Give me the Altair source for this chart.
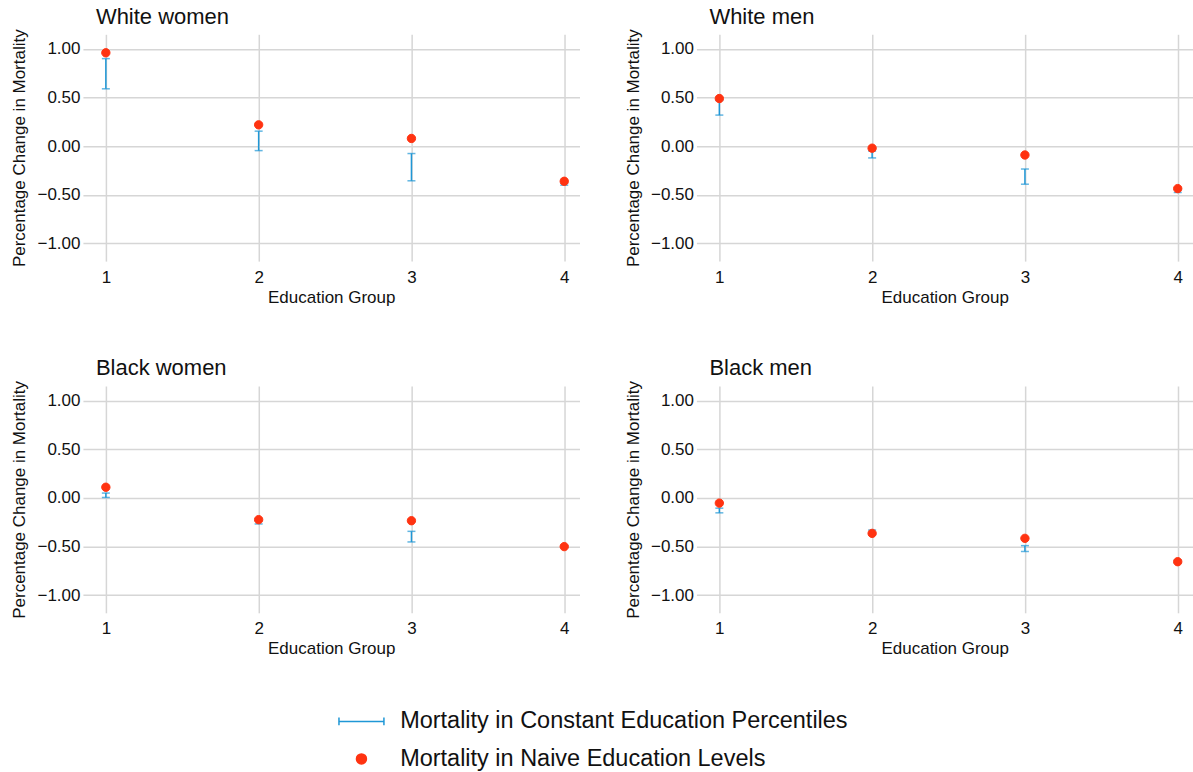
import altair as alt
import pandas as pd

# Panels and education groups
panels = ["White women", "White men", "Black women", "Black men"]
groups = [1, 2, 3, 4]

# Percentage change in mortality, naive education levels (points)
naive_white_women = [0.96, 0.22, 0.08, -0.36]
naive_white_men = [0.49, -0.02, -0.09, -0.435]
naive_black_women = [0.11, -0.223, -0.234, -0.50]
naive_black_men = [-0.053, -0.364, -0.415, -0.655]

# Constant education percentiles: lower / upper bounds (error bars)
low_white_women = [0.59, -0.045, -0.355, -0.40]
high_white_women = [0.90, 0.155, -0.075, -0.38]
low_white_men = [0.32, -0.12, -0.39, -0.475]
high_white_men = [0.47, -0.05, -0.234, -0.445]
low_black_women = [0.005, -0.267, -0.452, -0.51]
high_black_women = [0.05, -0.235, -0.343, -0.49]
low_black_men = [-0.153, -0.37, -0.55, -0.67]
high_black_men = [-0.105, -0.33, -0.49, -0.64]

SER_CONST = "Mortality in Constant Education Percentiles"
SER_NAIVE = "Mortality in Naive Education Levels"
BLUE = "#1f97d6"
RED = "#ff3311"
FONT = "Liberation Sans"
# legend glyph for the error bars: a horizontal bar with end caps
ERR_PATH = "M-4.5,0L4.5,0M-4.5,-0.77L-4.5,0.77M4.5,-0.77L4.5,0.77"

naive = [naive_white_women, naive_white_men, naive_black_women, naive_black_men]
lows = [low_white_women, low_white_men, low_black_women, low_black_men]
highs = [high_white_women, high_white_men, high_black_women, high_black_men]

rows = []
for p, nv, lo, hi in zip(panels, naive, lows, highs):
    for g, n, a, b in zip(groups, nv, lo, hi):
        rows.append({"panel": p, "group": g, "naive": n, "lo": a, "hi": b,
                     "series": SER_NAIVE})
df = pd.DataFrame(rows)

PW, PH = 497, 227
SERIES = [SER_CONST, SER_NAIVE]


def panel_chart(name):
    base = alt.Chart(df).transform_filter(alt.datum.panel == name)
    x = alt.X(
        "group:Q",
        scale=alt.Scale(domain=[0.85, 4.1], nice=False, zero=False),
        axis=alt.Axis(values=groups, format="d", title="Education Group",
                      labelPadding=8, titlePadding=4),
    )
    y_axis = alt.Axis(values=[-1, -0.5, 0, 0.5, 1], format=".2f",
                      title="Percentage Change in Mortality",
                      labelPadding=3, titlePadding=8)
    y_scale = alt.Scale(domain=[-1.18, 1.15], nice=False, zero=False)

    bars = base.mark_rule(color=BLUE, strokeWidth=1.5).encode(
        x=x, y=alt.Y("lo:Q", scale=y_scale, axis=y_axis), y2="hi:Q"
    )
    cap_lo = base.mark_tick(color=BLUE, orient="horizontal", size=8,
                            thickness=1.5).encode(x=x, y=alt.Y("lo:Q", scale=y_scale, axis=y_axis))
    cap_hi = base.mark_tick(color=BLUE, orient="horizontal", size=8,
                            thickness=1.5).encode(x=x, y=alt.Y("hi:Q", scale=y_scale, axis=y_axis))

    legend = alt.Legend(
        title=None, orient="none", legendX=267, legendY=676,
        direction="vertical", labelFontSize=23.5, labelFont=FONT,
        labelColor="#111111", symbolSize=100, labelOffset=27,
        rowPadding=12.5, padding=0, labelLimit=700, symbolStrokeWidth=1.5,
        symbolOpacity=1,
    )
    color_scale = alt.Scale(domain=SERIES, range=[BLUE, RED])
    pts = base.mark_point(filled=True, size=70, opacity=1, strokeWidth=1).encode(
        x=x,
        y=alt.Y("naive:Q", scale=y_scale, axis=y_axis),
        fill=alt.Fill("series:N", scale=color_scale, legend=legend),
        stroke=alt.Stroke("series:N", scale=color_scale, legend=legend),
        shape=alt.Shape("series:N",
                        scale=alt.Scale(domain=SERIES, range=[ERR_PATH, "circle"]),
                        legend=legend),
    )
    return alt.layer(bars, cap_lo, cap_hi, pts).properties(
        width=PW, height=PH,
        title=alt.TitleParams(name, anchor="start", frame="group", fontSize=22,
                              fontWeight="normal", font=FONT, color="#111111",
                              dx=13, offset=0),
    )


top = alt.hconcat(panel_chart(panels[0]), panel_chart(panels[1]), spacing=44)
bottom = alt.hconcat(panel_chart(panels[2]), panel_chart(panels[3]), spacing=44)

chart = alt.vconcat(top, bottom, spacing=52).properties(
    padding={"left": 10, "top": 5, "right": 0, "bottom": 0},
    background="white",
).configure_view(stroke=None).configure_axis(
    labelFont=FONT, titleFont=FONT, labelFontSize=17, titleFontSize=17,
    titleFontWeight="normal", labelColor="#111111", titleColor="#111111",
    domain=False, ticks=False, grid=True, gridColor="#d6d6d6", gridWidth=1.5,
)

chart.save("out.html", embed_options={"renderer": "svg", "actions": False})
